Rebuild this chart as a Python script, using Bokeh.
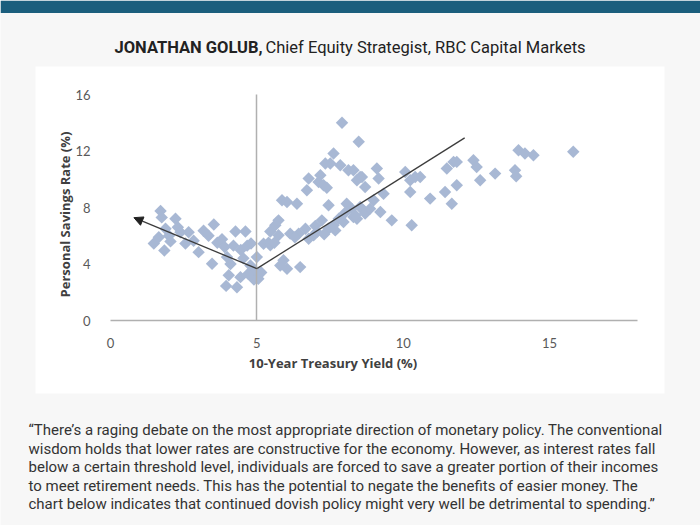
import numpy as np
from bokeh.plotting import figure
from bokeh.models import (LinearAxis, FixedTicker, Range1d, BoxAnnotation, Label,
                          Arrow, NormalHead, ColumnDataSource)
from bokeh.embed import file_html
from bokeh.resources import INLINE

# ---------------- data ----------------
yield_pct = [
    1.48, 1.71, 1.75, 1.65, 1.84, 1.88, 2.00, 2.05, 2.22, 2.30, 2.39, 2.56, 2.67, 2.84,
    3.01, 3.18, 3.35, 3.53, 3.47, 3.65, 3.81, 3.90, 3.98, 4.04, 3.95, 4.32, 4.44, 4.27,
    4.61, 4.20, 4.54, 4.67, 4.78, 4.80, 4.10, 4.45, 4.90, 4.95, 5.00, 4.70,
    5.05, 5.15, 5.23, 5.40, 5.46, 5.46, 5.60, 5.63, 5.74, 5.74, 5.86, 6.03, 6.37, 5.91,
    6.03, 5.80, 6.48, 6.14, 6.43, 6.30, 6.66, 6.77, 7.05, 7.22, 7.45, 7.68, 7.96, 6.94,
    7.62, 6.71, 6.77, 7.17, 7.11, 7.28, 7.39, 7.51, 7.34, 7.62, 7.85, 7.91, 8.48, 8.13,
    7.45, 8.07, 8.24, 8.30, 8.42, 8.64, 8.42, 8.53, 8.59, 8.70, 8.30, 8.99, 9.10, 9.16,
    8.53, 8.70, 8.36, 9.22, 8.87, 9.33, 9.61, 7.00, 7.30, 7.80, 8.00,
    10.07, 10.24, 10.41, 10.58, 10.24, 10.29, 10.92, 11.43, 11.66, 11.83, 11.49, 11.72,
    11.83, 12.40, 12.51, 12.63, 13.14, 13.82, 13.86, 13.94, 14.16, 14.45, 15.81,
]
savings_pct = [
    5.45, 7.75, 7.30, 5.90, 4.96, 6.50, 6.00, 5.60, 7.20, 6.60, 6.25, 5.45, 6.25, 5.65,
    4.84, 6.35, 6.00, 6.80, 4.02, 5.50, 5.75, 5.20, 4.49, 3.20, 2.45, 2.36, 3.07, 6.30,
    6.30, 5.30, 4.40, 5.30, 3.90, 5.45, 4.00, 5.00, 2.90, 3.50, 4.49, 3.30,
    2.95, 3.40, 5.44, 5.50, 6.30, 5.32, 5.50, 6.74, 7.09, 6.03, 8.51, 8.39, 8.27, 4.26,
    3.67, 3.90, 3.78, 6.15, 6.15, 5.90, 6.50, 5.79, 6.26, 7.09, 6.50, 6.38, 6.97, 6.03,
    6.74, 9.22, 10.05, 10.28, 9.81, 9.57, 9.40, 11.11, 11.11, 11.82, 10.99, 14.00, 12.65, 10.64,
    8.16, 8.27, 7.92, 7.33, 7.21, 7.80, 9.93, 10.16, 10.16, 9.45, 10.64, 8.51, 10.76, 10.05,
    8.04, 7.57, 7.45, 7.68, 7.92, 8.98, 7.09, 6.70, 6.10, 7.20, 7.60,
    10.52, 9.93, 10.16, 10.16, 9.10, 6.74, 8.63, 9.10, 8.27, 9.57, 10.76, 11.23,
    11.23, 11.35, 10.87, 9.93, 10.40, 10.64, 10.21, 12.06, 11.82, 11.70, 11.94,
]
trend_x = [0.8, 5.0, 12.1]
trend_y = [7.28, 3.67, 12.93]
x_ticks = [0, 5, 10, 15]
y_ticks = [0, 4, 8, 12, 16]
x_axis_extent = (0, 18)
y_axis_extent = (0, 16)
y_axis_cross = 5

x_title = "10-Year Treasury Yield (%)"
y_title = "Personal Savings Rate (%)"
header_bold = "JONATHAN GOLUB,"
header_rest = "Chief Equity Strategist, RBC Capital Markets"
quote_lines = [
    "\u201cThere\u2019s a raging debate on the most appropriate direction of monetary policy. The conventional",
    "wisdom holds that lower rates are constructive for the economy. However, as interest rates fall",
    "below a certain threshold level, individuals are forced to save a greater portion of their incomes",
    "to meet retirement needs. This has the potential to negate the benefits of easier money. The",
    "chart below indicates that continued dovish policy might very well be detrimental to spending.\u201d",
]

# ---------------- layout helpers (reference pixel -> data) ----------------
W, H = 700, 525
PX0, PXS = 110.0, 29.27
PY0, PYS = 320.0, 14.125


def dx(px):
    return (px - PX0) / PXS


def dy(py):
    return (PY0 - py) / PYS


PAGE = "#f7f7f7"

p = figure(width=W, height=H, output_backend="svg", toolbar_location=None,
           x_range=Range1d(dx(0), dx(W)), y_range=Range1d(dy(H), dy(0)),
           x_axis_type=None, y_axis_type=None,
           min_border=0, min_border_left=0, min_border_right=0,
           min_border_top=0, min_border_bottom=0,
           background_fill_color=PAGE, border_fill_color=PAGE,
           outline_line_color=None)

# header bar and white chart panel
p.add_layout(BoxAnnotation(bottom=dy(12.5), fill_color="#1b5e7d", fill_alpha=1,
                           line_color=None, level="underlay"))
p.add_layout(BoxAnnotation(left=dx(35), right=dx(664), top=dy(66), bottom=dy(393),
                           fill_color="white", fill_alpha=1, line_color=None,
                           level="underlay"))

# axes
xax = LinearAxis(fixed_location=0, bounds=x_axis_extent, ticker=FixedTicker(ticks=x_ticks),
                 axis_line_color="#b0b0b0", axis_line_width=1.5,
                 major_tick_line_color=None, minor_tick_line_color=None,
                 major_label_standoff=11, major_label_text_font="Lato",
                 major_label_text_font_size="13px", major_label_text_color="#595959")
p.add_layout(xax, "below")

yax = LinearAxis(fixed_location=0, ticker=FixedTicker(ticks=y_ticks),
                 axis_line_color=None, major_tick_line_color=None,
                 minor_tick_line_color=None, major_label_standoff=14,
                 major_label_text_font="Lato", major_label_text_font_size="13px",
                 major_label_text_color="#595959")
p.add_layout(yax, "left")

ycross = LinearAxis(fixed_location=y_axis_cross, bounds=y_axis_extent,
                    ticker=FixedTicker(ticks=[]),
                    axis_line_color="#b0b0b0", axis_line_width=1.5,
                    major_tick_line_color=None, minor_tick_line_color=None)
p.add_layout(ycross, "left")

# scatter
src = ColumnDataSource(dict(x=yield_pct, y=savings_pct))
p.scatter("x", "y", source=src, marker="square", size=8.8, angle=np.pi / 4,
          fill_color="#a8b8d4", line_color=None)

# trend lines
p.line(trend_x[1:], trend_y[1:], line_color="#3c3c3c", line_width=1.3)
p.add_layout(Arrow(x_start=trend_x[1], y_start=trend_y[1], x_end=trend_x[0], y_end=trend_y[0],
                   line_color="#3c3c3c", line_width=1.3,
                   end=NormalHead(size=9, fill_color="#222222", line_color="#222222")))

# axis titles
p.add_layout(Label(x=dx(332.5), y=dy(362), text=x_title, text_font="Open Sans",
                   text_font_style="bold", text_font_size="13px", text_color="#404040",
                   text_align="center", text_baseline="middle"))
p.add_layout(Label(x=dx(64), y=dy(214), text=y_title, text_font="Open Sans",
                   text_font_style="bold", text_font_size="13px", text_color="#404040",
                   text_align="center", text_baseline="middle", angle=np.pi / 2))

# header
p.add_layout(Label(x=dx(114), y=dy(47), text=header_bold, text_font="Roboto",
                   text_font_style="bold", text_font_size="16.5px", text_color="#222222",
                   text_baseline="alphabetic"))
p.add_layout(Label(x=dx(265), y=dy(47), text=header_rest, text_font="Roboto",
                   text_font_size="16.5px", text_color="#222222",
                   text_baseline="alphabetic"))

# quote
for i, line in enumerate(quote_lines):
    p.add_layout(Label(x=dx(28), y=dy(429.5 + 18.5 * i), text=line, text_font="Roboto",
                       text_font_size="15px", text_color="#333333",
                       text_baseline="alphabetic"))

open("out.html", "w").write(file_html(p, INLINE))
